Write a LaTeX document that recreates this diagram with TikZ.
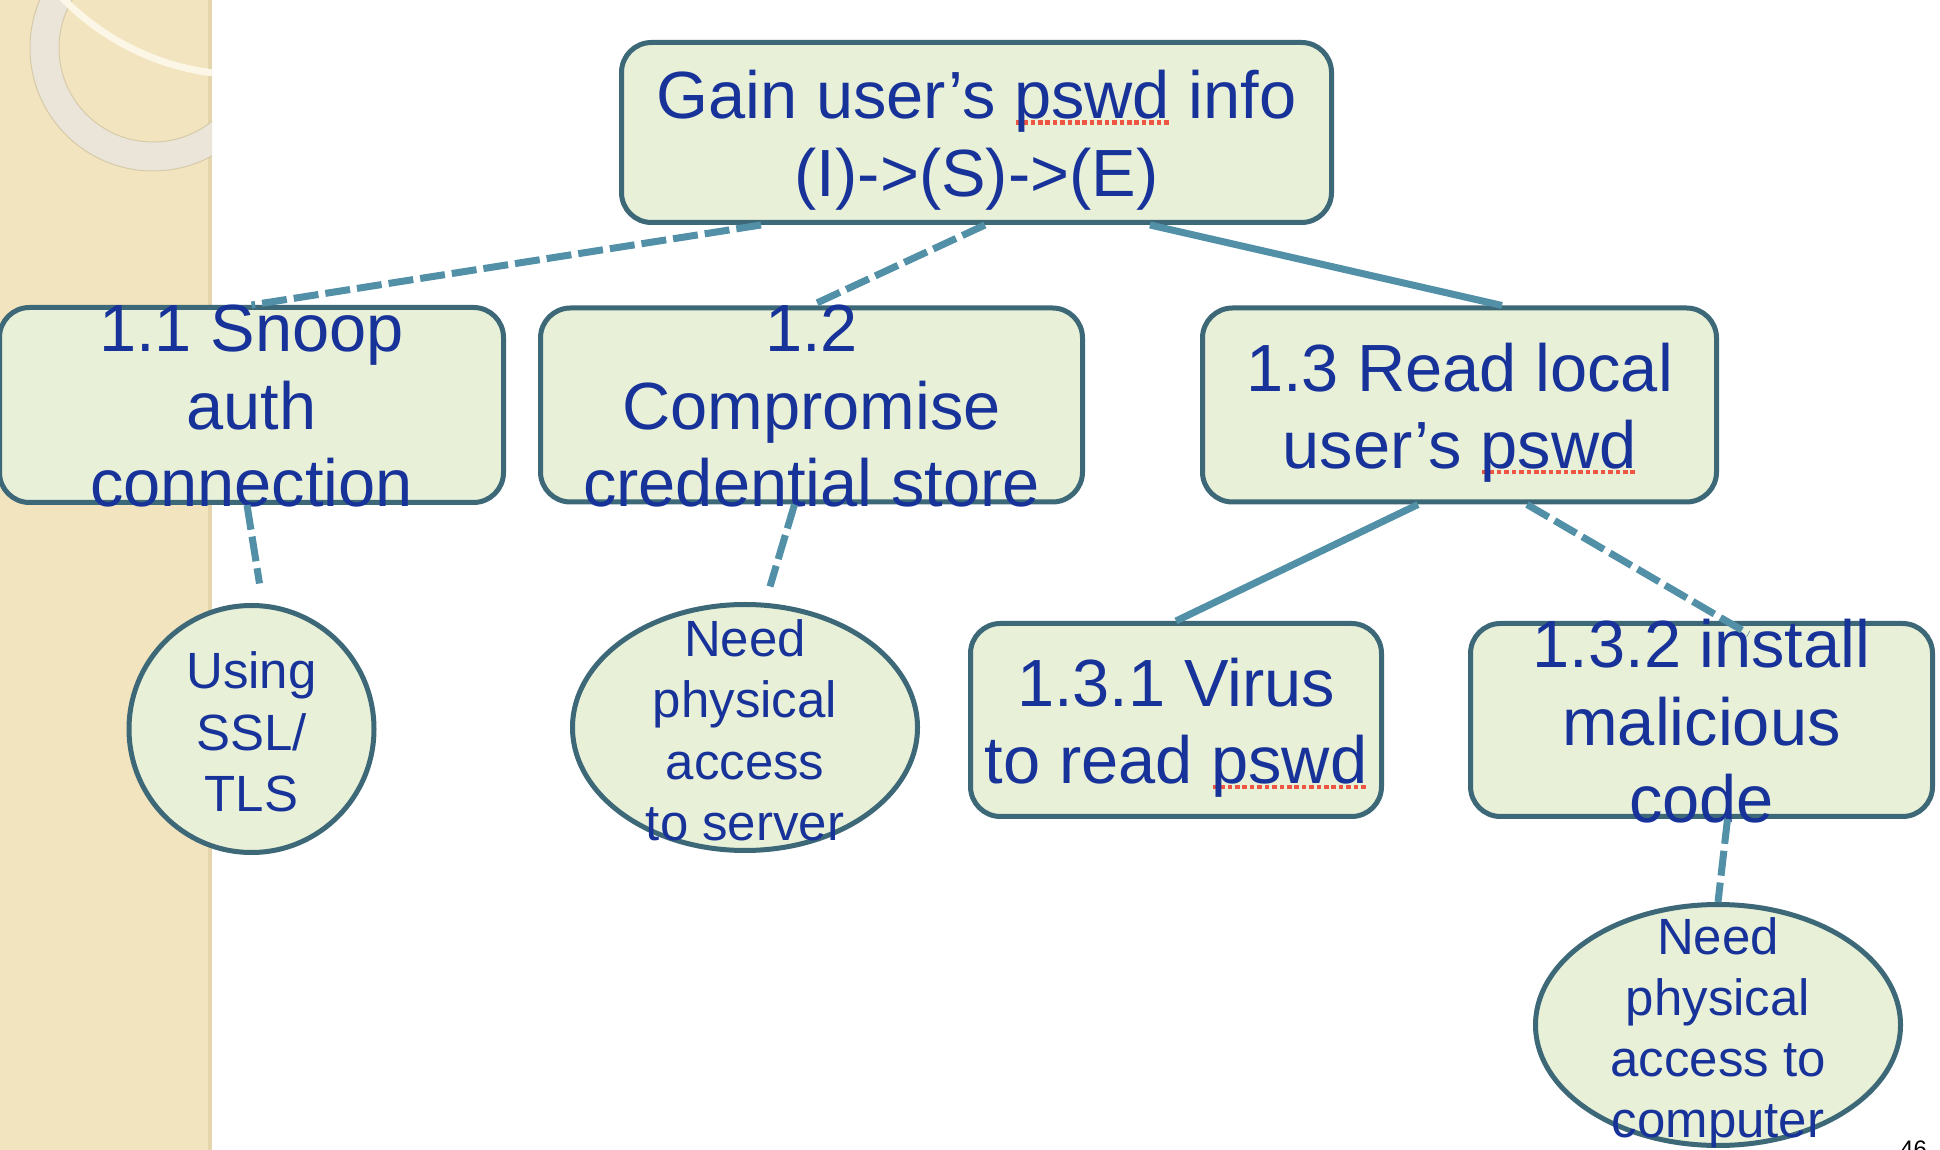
\documentclass[tikz,border=0pt]{standalone}
\usepackage{fontspec}
\setmainfont{Liberation Sans}
\usetikzlibrary{positioning,shapes.geometric}

\definecolor{boxfill}{HTML}{E8F0D7}
\definecolor{boxline}{HTML}{3D6878}
\definecolor{linkcol}{HTML}{5190A6}
\definecolor{textcol}{HTML}{17339A}
\definecolor{spellcol}{HTML}{EE5542}
\definecolor{bandcol}{HTML}{F2E4BE}
\definecolor{bandshade}{HTML}{E4D5AC}
\definecolor{ringcol}{HTML}{EAE5D8}
\definecolor{ringedge}{HTML}{D6CAA8}
\definecolor{arccol}{HTML}{FBF6E6}

\newsavebox\spellbox
\newcommand\spell[1]{\sbox\spellbox{#1}\rlap{\color{spellcol}\hbox to \wd\spellbox{\xleaders\hbox to 2.1pt{\hss\rule[-1.6pt]{1.3pt}{1.3pt}\hss}\hfill}}\usebox\spellbox}
\newcommand\nodestrut{\rule[-0.212em]{0pt}{1.117em}}

\begin{document}
\begin{tikzpicture}
    \tikzset{
      box/.style={draw=boxline, fill=boxfill, line width=0.05cm, rounded corners=0.3cm, inner sep=0},
      oval/.style={ellipse, draw=boxline, fill=boxfill, line width=0.05cm, inner sep=0},
      bigtext/.style={text=textcol, align=center, inner sep=0, yshift=-0.08cm, font=\fontsize{19}{22}\selectfont, execute at begin node=\nodestrut, execute at end node=\nodestrut},
      smalltext/.style={bigtext, font=\fontsize{14.5}{17.4}\selectfont},
      link/.style={draw, color=linkcol, line width=0.07cm},
      dashlink/.style={link, dash pattern=on 0.25cm off 0.07cm},
    }
    \useasboundingbox (0,0) rectangle (19.4,-11.5);
    \fill[white] (0,0) rectangle (19.4,-11.5);
    \begin{scope}
      \clip (0,0) rectangle (2.12,-11.5);
      \fill[bandcol] (0,0) rectangle (2.12,-11.5);
      \fill[bandshade] (2.08,0) rectangle (2.12,-11.5);
      \filldraw[fill=ringcol, draw=ringedge, line width=0.01cm, even odd rule] (1.53,-0.48) circle (1.23) circle (0.94);
      \draw[arccol, line width=0.07cm] (2.45,1.80) circle (2.55);
    \end{scope}

    \node [box, minimum width=7.10cm, minimum height=1.80cm] (goal) at (9.765,-1.325) {};
    \node [box, minimum width=5.04cm, minimum height=1.95cm] (snoop) [below of=goal, node distance=2.725cm, xshift=-7.25cm] {};
    \node [box, minimum width=5.42cm, minimum height=1.94cm] (store) [right of=snoop, node distance=5.60cm] {};
    \node [box, minimum width=5.14cm, minimum height=1.94cm] (local) [right of=store, node distance=6.48cm] {};
    \node [box, minimum width=4.11cm, minimum height=1.93cm] (virus) [below of=local, node distance=3.15cm, xshift=-2.835cm] {};
    \node [box, minimum width=4.62cm, minimum height=1.93cm] (install) [right of=virus, node distance=5.255cm] {};
    \node [oval, minimum width=2.45cm, minimum height=2.47cm] (ssl) [below of=snoop, node distance=3.24cm] {};
    \node [oval, minimum width=3.45cm, minimum height=2.46cm] (server) [below of=store, node distance=3.225cm, xshift=-0.665cm] {};
    \node [oval, minimum width=3.65cm, minimum height=2.41cm] (computer) [below of=install, node distance=3.05cm, xshift=0.165cm] {};

    \node [bigtext] (goal-t) at (goal) {Gain user’s \spell{pswd} info\\(I)->(S)->(E)};
    \node [bigtext] (snoop-t) at (snoop) {1.1 Snoop\\auth\\connection};
    \node [bigtext] (store-t) at (store) {1.2\\Compromise\\credential store};
    \node [bigtext] (local-t) at (local) {1.3 Read local\\user’s \spell{pswd}};
    \node [bigtext] (virus-t) at (virus) {1.3.1 Virus\\to read \spell{pswd}};
    \node [bigtext] (install-t) at (install) {1.3.2 install\\malicious\\code};
    \node [smalltext] (ssl-t) at (ssl) {Using\\SSL/\\TLS};
    \node [smalltext] (server-t) at (server) {Need\\physical\\access\\to server};
    \node [smalltext] (computer-t) at (computer) {Need\\physical\\access to\\computer};
    \node [font=\fontsize{6.8}{8}\selectfont, anchor=north, inner sep=0] (page) at (19.135,-11.40) {46};

    \path[dashlink] ([xshift=-2.155cm]goal.south) edge (snoop.north)
                    ([xshift=0.085cm]goal.south) edge (store.north);
    \path[link] ([xshift=1.735cm]goal.south) edge ([xshift=0.425cm]local.north);
    \path[dashlink] ([xshift=-0.045cm]snoop.south) edge ([xshift=0.08cm, yshift=0.195cm]ssl.north);
    \path[dashlink] ([xshift=-0.17cm]store.south) edge ([xshift=0.25cm, yshift=0.155cm]server.north);
    \path[link] ([xshift=-0.415cm]local.south) edge (virus.north);
    \path[dashlink] ([xshift=0.675cm]local.south) edge ([xshift=0.47cm, yshift=-0.13cm]install.north);
    \path[dashlink] ([xshift=0.26cm]install.south) edge (computer.north);
\end{tikzpicture}
\end{document}
